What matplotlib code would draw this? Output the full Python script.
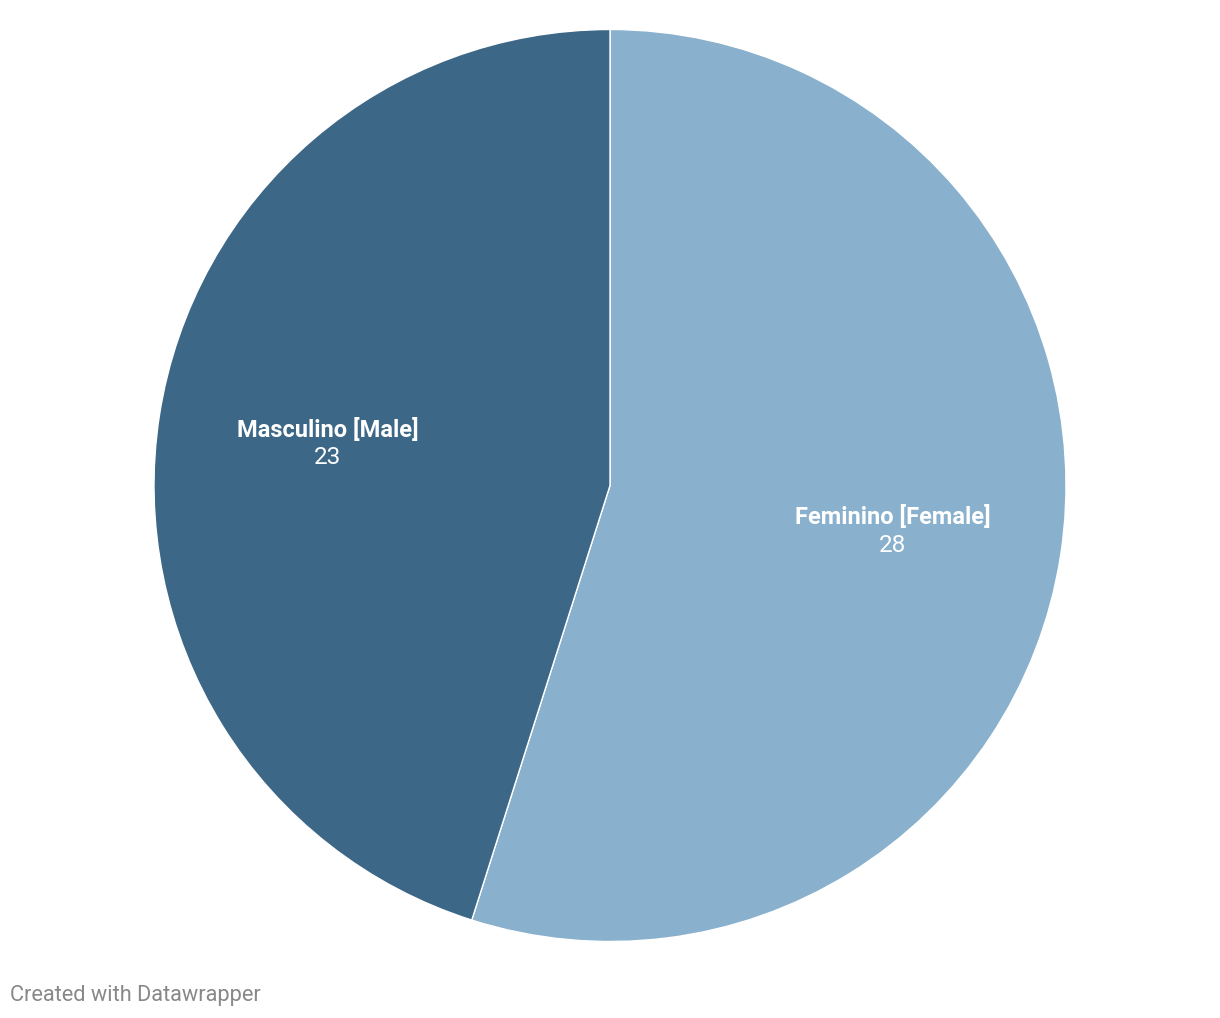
import numpy as np
import matplotlib
matplotlib.use("Agg")
import matplotlib.pyplot as plt

labels = ["Feminino [Female]", "Masculino [Male]"]
values = [28, 23]
colors = ["#89b0cc", "#3d6787"]

plt.rcParams['font.family'] = ['Roboto', 'DejaVu Sans']

fig = plt.figure(figsize=(12.2, 10.18), dpi=100)
ax = fig.add_axes([0, 0, 1, 1])

cx, cy, r = 610, 1018 - 485.5, 456
wedges, _ = ax.pie(values, colors=colors, startangle=90, counterclock=False,
                   center=(cx, cy), radius=r,
                   wedgeprops=dict(edgecolor='white', linewidth=1))
ax.set_xlim(0, 1220)
ax.set_ylim(0, 1018)
ax.set_aspect('equal')
ax.axis('off')

for w, lab, v in zip(wedges, labels, values):
    mid = np.deg2rad((w.theta1 + w.theta2) / 2)
    lx = cx + 0.627 * r * np.cos(mid)
    ly = cy + 0.627 * r * np.sin(mid) - 2
    ax.text(lx, ly + 14, lab, ha='center', va='center', color='white',
            fontsize=17, fontweight='bold')
    ax.text(lx, ly - 14, str(v), ha='center', va='center', color='white',
            fontsize=17.5)

fig.text(10 / 1220, 1 - 995 / 1018, "Created with Datawrapper", ha='left', va='center',
         color='#888888', fontsize=15.7)

fig.savefig("out.png", dpi=100)
